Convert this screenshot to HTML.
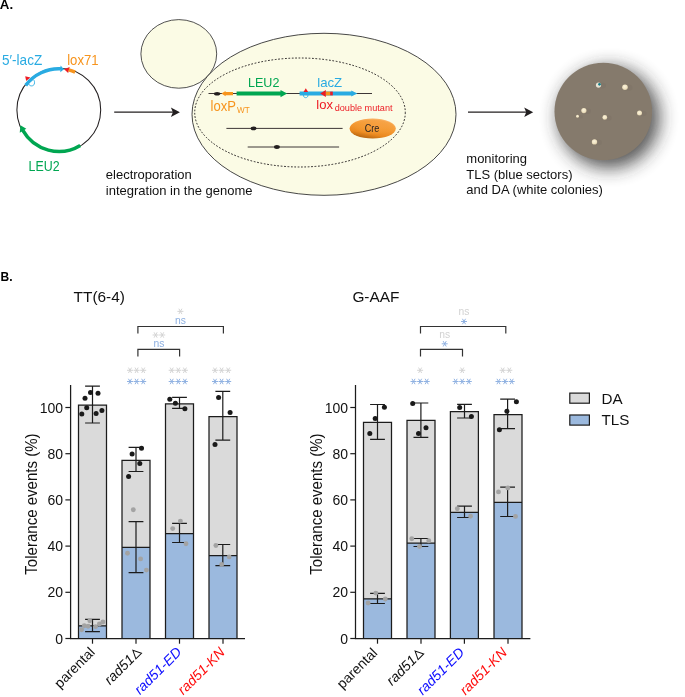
<!DOCTYPE html>
<html><head><meta charset="utf-8"><style>
html,body{margin:0;padding:0;background:#fff;}
svg{display:block;font-family:"Liberation Sans", sans-serif;will-change:transform;}
</style></head><body>
<svg width="685" height="697" viewBox="0 0 685 697">
<text x="-0.2" y="9.1" font-size="13.3" font-weight="bold">A.</text>
<circle cx="58.8" cy="110.1" r="41.9" fill="none" stroke="#231f20" stroke-width="1.05"/>
<path d="M25.69,85.42 A41.3,41.3 0 0 1 60.82,68.85" fill="none" stroke="#29abe2" stroke-width="3.5"/>
<path d="M63.98,69.13 L60.59,65.44 L60.32,72.23Z" fill="#29abe2"/>
<path d="M64.12,69.14 L69.69,67.06 L68.17,73.07Z" fill="#ed1c24"/>
<path d="M68.68,69.90 A41.4,41.4 0 0 1 75.11,72.05" fill="none" stroke="#f7941d" stroke-width="3.5"/>
<path d="M25.2,76.2 L30.4,77.4 L26.2,80.9Z" fill="#ed1c24"/>
<path d="M28.8,84.2 C29.8,86.6 33.6,86.4 34.3,84 C34.8,82.3 34.5,80.8 33.6,79.9" fill="none" stroke="#29abe2" stroke-width="0.9"/>
<path d="M80.26,145.39 A41.3,41.3 0 0 1 22.85,130.44" fill="none" stroke="#00a651" stroke-width="3.5"/>
<path d="M20.43,125.37 L19.74,132.65 L26.32,128.85Z" fill="#00a651"/>
<text x="2" y="64.6" font-size="13.9" fill="#29abe2" textLength="40.2" lengthAdjust="spacingAndGlyphs">5′-lacZ</text>
<text x="67.2" y="64.6" font-size="13.9" fill="#f7941d" textLength="31.4" lengthAdjust="spacingAndGlyphs">lox71</text>
<text x="28.6" y="170.7" font-size="14.2" fill="#00a651" textLength="31" lengthAdjust="spacingAndGlyphs">LEU2</text>
<line x1="114.2" y1="112.2" x2="173.9" y2="112.2" stroke="#231f20" stroke-width="1.3"/><path d="M179.9,112.2 L170.9,107.4 L172.9,112.2 L170.9,117.0Z" fill="#231f20"/>
<line x1="468" y1="112.2" x2="527.2" y2="112.2" stroke="#231f20" stroke-width="1.3"/><path d="M533.2,112.2 L524.2,107.4 L526.2,112.2 L524.2,117.0Z" fill="#231f20"/>
<ellipse cx="178.8" cy="53.9" rx="37.9" ry="34.3" fill="#fbfbe5" stroke="#333" stroke-width="0.85"/>
<ellipse cx="324" cy="114.3" rx="132" ry="81" fill="#fbfbe5" stroke="#333" stroke-width="0.9"/>
<ellipse cx="300" cy="112.5" rx="105.3" ry="54.5" fill="none" stroke="#231f20" stroke-width="1" stroke-dasharray="1.7 1.7"/>
<line x1="208.5" y1="93.5" x2="372" y2="93.5" stroke="#3d3636" stroke-width="1"/>
<ellipse cx="217.1" cy="93.7" rx="3.2" ry="1.8" fill="#231f20"/>
<path d="M221.4,93.6 L225.6,90.9 L225.6,92 L233,92 L233,95.3 L225.6,95.3 L225.6,96.3 Z" fill="#f7941d"/>
<path d="M236.6,91.6 L280.5,91.6 L280.5,89.9 L287.2,93.6 L280.5,97.3 L280.5,95.6 L236.6,95.6Z" fill="#00a651"/>
<path d="M299.6,91.6 L351.3,91.6 L351.3,90.6 L357.4,93.5 L351.3,96.4 L351.3,95.4 L299.6,95.4Z" fill="#29abe2"/>
<path d="M305.8,88.2 L308.1,91.9 L303.5,91.9Z" fill="#ed1c24"/>
<path d="M303.4,95 C303.2,98.6 308.2,98.6 308,95" fill="none" stroke="#29abe2" stroke-width="0.85"/>
<path d="M320.2,93.5 L325.9,90 L325.9,97.1Z" fill="#ed1c24"/>
<rect x="325.8" y="91.6" width="4.4" height="3.8" fill="#f7941d"/>
<rect x="330.2" y="91.6" width="2.6" height="3.8" fill="#ed1c24"/>
<text x="248" y="86.7" font-size="13.4" fill="#00a651" textLength="31.4" lengthAdjust="spacingAndGlyphs">LEU2</text>
<text x="317.2" y="86.6" font-size="13.6" fill="#29abe2" textLength="25" lengthAdjust="spacingAndGlyphs">lacZ</text>
<text x="210.6" y="110.8" font-size="14.2" fill="#f7941d" textLength="25.4" lengthAdjust="spacingAndGlyphs">loxP</text>
<text x="237.1" y="112.5" font-size="9.2" fill="#f7941d" textLength="12.7" lengthAdjust="spacingAndGlyphs">WT</text>
<text x="316.3" y="108.9" font-size="13.7" fill="#ed1c24" textLength="16.7" lengthAdjust="spacingAndGlyphs">lox</text>
<text x="334.7" y="110.6" font-size="8.6" fill="#ed1c24" textLength="57.8" lengthAdjust="spacingAndGlyphs">double mutant</text>
<line x1="226.4" y1="128.4" x2="342.6" y2="128.4" stroke="#3d3636" stroke-width="1"/>
<ellipse cx="253.6" cy="128.4" rx="2.9" ry="1.9" fill="#231f20"/>
<line x1="247.7" y1="147" x2="339.1" y2="147" stroke="#3d3636" stroke-width="1"/>
<ellipse cx="276.9" cy="147" rx="2.9" ry="1.9" fill="#231f20"/>
<defs><linearGradient id="cre" x1="0.75" y1="0" x2="0.3" y2="1"><stop offset="0" stop-color="#fbb469"/><stop offset="0.45" stop-color="#f59a33"/><stop offset="0.75" stop-color="#ea891f"/><stop offset="1" stop-color="#b0600e"/></linearGradient><radialGradient id="cre2" cx="0.55" cy="0.4" r="0.55"><stop offset="0" stop-color="#f7a040" stop-opacity="0.9"/><stop offset="0.8" stop-color="#f39a33" stop-opacity="0.4"/><stop offset="1" stop-color="#f39a33" stop-opacity="0"/></radialGradient><radialGradient id="col" cx="0.45" cy="0.4" r="0.6"><stop offset="0" stop-color="#fbf3dc"/><stop offset="0.7" stop-color="#efe2c0"/><stop offset="1" stop-color="#d8c9a8"/></radialGradient><filter id="sh" x="-60%" y="-60%" width="220%" height="220%"><feGaussianBlur stdDeviation="9"/></filter></defs>
<ellipse cx="372.7" cy="128.6" rx="23.1" ry="10" fill="url(#cre)"/><ellipse cx="373.5" cy="127.6" rx="20.5" ry="7.8" fill="url(#cre2)"/>
<text x="372.1" y="131.8" font-size="10.6" fill="#231f20" text-anchor="middle" textLength="14.6" lengthAdjust="spacingAndGlyphs">Cre</text>
<text x="105.8" y="179" font-size="13" fill="#111">electroporation</text>
<text x="105.8" y="194.5" font-size="13" fill="#111">integration in the genome</text>
<text x="466.3" y="162.8" font-size="13" fill="#111">monitoring</text>
<text x="466.3" y="178.6" font-size="13" fill="#111">TLS (blue sectors)</text>
<text x="466.3" y="194.4" font-size="13" fill="#111">and DA (white colonies)</text>
<circle cx="609" cy="117.5" r="50.5" fill="#2a2a2a" opacity="0.8" filter="url(#sh)"/>
<circle cx="603.3" cy="111.5" r="48.8" fill="#857a6c"/>
<ellipse cx="628" cy="87.7" rx="4.4799999999999995" ry="3.08" fill="#776c60" opacity="0.25"/>
<circle cx="625" cy="87.2" r="2.8" fill="url(#col)"/>
<ellipse cx="586.9" cy="111.1" rx="4.16" ry="2.8600000000000003" fill="#776c60" opacity="0.25"/>
<circle cx="583.9" cy="110.6" r="2.6" fill="url(#col)"/>
<ellipse cx="580.5" cy="116.8" rx="2.4000000000000004" ry="1.6500000000000001" fill="#776c60" opacity="0.25"/>
<circle cx="577.5" cy="116.3" r="1.5" fill="url(#col)"/>
<ellipse cx="607.8" cy="117.9" rx="3.84" ry="2.64" fill="#776c60" opacity="0.25"/>
<circle cx="604.8" cy="117.4" r="2.4" fill="url(#col)"/>
<ellipse cx="642.5" cy="113.6" rx="4.0" ry="2.75" fill="#776c60" opacity="0.25"/>
<circle cx="639.5" cy="113.1" r="2.5" fill="url(#col)"/>
<ellipse cx="597.5" cy="142.4" rx="4.32" ry="2.9700000000000006" fill="#776c60" opacity="0.25"/>
<circle cx="594.5" cy="141.9" r="2.7" fill="url(#col)"/>
<ellipse cx="602" cy="85.6" rx="4" ry="2.8" fill="#776c60" opacity="0.25"/>
<circle cx="598.5" cy="85.1" r="2.6" fill="#e8e4d4"/><circle cx="599.5" cy="84.3" r="1.35" fill="#127b87"/>
<text x="0.6" y="281.2" font-size="12" font-weight="bold">B.</text>
<text x="73.6" y="301.7" font-size="15.4" fill="#111">TT(6-4)</text>
<text transform="translate(37.39999999999999,504.05) rotate(-90)" font-size="15.7" text-anchor="middle" fill="#111" textLength="141.3" lengthAdjust="spacingAndGlyphs">Tolerance events (%)</text>
<rect x="78.5" y="405.19" width="28" height="220.60" fill="#dadada"/>
<rect x="78.5" y="625.79" width="28" height="12.71" fill="#9bb9de"/>
<path d="M78.5,638.5 V405.19 H106.5 V638.5 M78.5,625.79 H106.5" fill="none" stroke="#1c1c1c" stroke-width="1.25"/>
<rect x="122" y="460.40" width="28" height="86.86" fill="#dadada"/>
<rect x="122" y="547.25" width="28" height="91.25" fill="#9bb9de"/>
<path d="M122,638.5 V460.40 H150 V638.5 M122,547.25 H150" fill="none" stroke="#1c1c1c" stroke-width="1.25"/>
<rect x="165.5" y="403.80" width="28" height="129.82" fill="#dadada"/>
<rect x="165.5" y="533.63" width="28" height="104.87" fill="#9bb9de"/>
<path d="M165.5,638.5 V403.80 H193.5 V638.5 M165.5,533.63 H193.5" fill="none" stroke="#1c1c1c" stroke-width="1.25"/>
<rect x="209" y="416.74" width="28" height="138.83" fill="#dadada"/>
<rect x="209" y="555.57" width="28" height="82.93" fill="#9bb9de"/>
<path d="M209,638.5 V416.74 H237 V638.5 M209,555.57 H237" fill="none" stroke="#1c1c1c" stroke-width="1.25"/>
<path d="M92.5,386.2 V423 M85.1,386.2 H99.9 M85.1,423 H99.9" stroke="#1c1c1c" stroke-width="1.2" fill="none"/>
<circle cx="90.5" cy="392.6" r="2.5" fill="#1a1a1a"/>
<circle cx="98" cy="393.2" r="2.5" fill="#1a1a1a"/>
<circle cx="85" cy="398.3" r="2.5" fill="#1a1a1a"/>
<circle cx="86.7" cy="407.8" r="2.5" fill="#1a1a1a"/>
<circle cx="81.8" cy="414.1" r="2.5" fill="#1a1a1a"/>
<circle cx="96.1" cy="413.6" r="2.5" fill="#1a1a1a"/>
<circle cx="101.9" cy="410.4" r="2.5" fill="#1a1a1a"/>
<path d="M92.5,619.3 V631.6 M85.1,619.3 H99.9 M85.1,631.6 H99.9" stroke="#1c1c1c" stroke-width="1.2" fill="none"/>
<circle cx="81.6" cy="629.8" r="2.45" fill="#a3a3a3"/>
<circle cx="84.3" cy="625.7" r="2.45" fill="#a3a3a3"/>
<circle cx="88.1" cy="626.3" r="2.45" fill="#a3a3a3"/>
<circle cx="89.8" cy="620.8" r="2.45" fill="#a3a3a3"/>
<circle cx="95.6" cy="626.6" r="2.45" fill="#a3a3a3"/>
<circle cx="99.4" cy="624" r="2.45" fill="#a3a3a3"/>
<circle cx="102.9" cy="622" r="2.45" fill="#a3a3a3"/>
<path d="M136,447.3 V471.5 M128.6,447.3 H143.4 M128.6,471.5 H143.4" stroke="#1c1c1c" stroke-width="1.2" fill="none"/>
<circle cx="141.5" cy="448.2" r="2.5" fill="#1a1a1a"/>
<circle cx="132.1" cy="453.9" r="2.5" fill="#1a1a1a"/>
<circle cx="139.8" cy="463.4" r="2.5" fill="#1a1a1a"/>
<circle cx="128.6" cy="476.5" r="2.5" fill="#1a1a1a"/>
<path d="M136,521.6 V572.6 M128.6,521.6 H143.4 M128.6,572.6 H143.4" stroke="#1c1c1c" stroke-width="1.2" fill="none"/>
<circle cx="133.3" cy="509.8" r="2.45" fill="#a3a3a3"/>
<circle cx="127.5" cy="553.2" r="2.45" fill="#a3a3a3"/>
<circle cx="140.6" cy="558.9" r="2.45" fill="#a3a3a3"/>
<circle cx="146.4" cy="570.1" r="2.45" fill="#a3a3a3"/>
<path d="M179.5,397.4 V408.3 M172.1,397.4 H186.9 M172.1,408.3 H186.9" stroke="#1c1c1c" stroke-width="1.2" fill="none"/>
<circle cx="169.8" cy="399.3" r="2.5" fill="#1a1a1a"/>
<circle cx="175.4" cy="403.2" r="2.5" fill="#1a1a1a"/>
<circle cx="184.9" cy="408.8" r="2.5" fill="#1a1a1a"/>
<path d="M179.5,523.3 V542.5 M172.1,523.3 H186.9 M172.1,542.5 H186.9" stroke="#1c1c1c" stroke-width="1.2" fill="none"/>
<circle cx="180.4" cy="521.1" r="2.45" fill="#a3a3a3"/>
<circle cx="172.7" cy="528.6" r="2.45" fill="#a3a3a3"/>
<circle cx="186" cy="543.7" r="2.45" fill="#a3a3a3"/>
<path d="M222.8,391.4 V440.2 M215.4,391.4 H230.20000000000002 M215.4,440.2 H230.20000000000002" stroke="#1c1c1c" stroke-width="1.2" fill="none"/>
<circle cx="218.6" cy="397.5" r="2.5" fill="#1a1a1a"/>
<circle cx="230.1" cy="412.4" r="2.5" fill="#1a1a1a"/>
<circle cx="215" cy="444.5" r="2.5" fill="#1a1a1a"/>
<path d="M222.8,544.5 V565.6 M215.4,544.5 H230.20000000000002 M215.4,565.6 H230.20000000000002" stroke="#1c1c1c" stroke-width="1.2" fill="none"/>
<circle cx="215.9" cy="545.5" r="2.45" fill="#a3a3a3"/>
<circle cx="229.2" cy="556.9" r="2.45" fill="#a3a3a3"/>
<circle cx="221.7" cy="564.4" r="2.45" fill="#a3a3a3"/>
<path d="M70.6,385 V638.5 H245" fill="none" stroke="#1c1c1c" stroke-width="1.25"/>
<line x1="65.39999999999999" y1="638.50" x2="70.6" y2="638.50" stroke="#1c1c1c" stroke-width="1.2"/>
<text x="63.099999999999994" y="643.50" font-size="14" text-anchor="end" fill="#111">0</text>
<line x1="65.39999999999999" y1="592.30" x2="70.6" y2="592.30" stroke="#1c1c1c" stroke-width="1.2"/>
<text x="63.099999999999994" y="597.30" font-size="14" text-anchor="end" fill="#111">20</text>
<line x1="65.39999999999999" y1="546.10" x2="70.6" y2="546.10" stroke="#1c1c1c" stroke-width="1.2"/>
<text x="63.099999999999994" y="551.10" font-size="14" text-anchor="end" fill="#111">40</text>
<line x1="65.39999999999999" y1="499.90" x2="70.6" y2="499.90" stroke="#1c1c1c" stroke-width="1.2"/>
<text x="63.099999999999994" y="504.90" font-size="14" text-anchor="end" fill="#111">60</text>
<line x1="65.39999999999999" y1="453.70" x2="70.6" y2="453.70" stroke="#1c1c1c" stroke-width="1.2"/>
<text x="63.099999999999994" y="458.70" font-size="14" text-anchor="end" fill="#111">80</text>
<line x1="65.39999999999999" y1="407.50" x2="70.6" y2="407.50" stroke="#1c1c1c" stroke-width="1.2"/>
<text x="63.099999999999994" y="412.50" font-size="14" text-anchor="end" fill="#111">100</text>
<line x1="92.5" y1="638.5" x2="92.5" y2="643.7" stroke="#1c1c1c" stroke-width="1.2"/>
<line x1="136" y1="638.5" x2="136" y2="643.7" stroke="#1c1c1c" stroke-width="1.2"/>
<line x1="179.5" y1="638.5" x2="179.5" y2="643.7" stroke="#1c1c1c" stroke-width="1.2"/>
<line x1="223" y1="638.5" x2="223" y2="643.7" stroke="#1c1c1c" stroke-width="1.2"/>
<text transform="translate(95.8,653.1) rotate(-45)" font-size="14" text-anchor="end" fill="#111" font-style="normal">parental</text>
<g transform="translate(142.3,653.2) rotate(-45)"><text x="-10" font-size="14" text-anchor="end" fill="#111" font-style="italic">rad51</text><path d="M-8.6,-0.5 L-0.6,-0.5 L-4.6,-8.7Z" fill="none" stroke="#111" stroke-width="1" stroke-linejoin="miter"/></g>
<text transform="translate(182.4,652.9) rotate(-45)" font-size="14" text-anchor="end" fill="#0c0cff" font-style="italic">rad51-ED</text>
<text transform="translate(225.7,653.2) rotate(-45)" font-size="14" text-anchor="end" fill="#ff0c0c" font-style="italic">rad51-KN</text>
<path d="M137.9,333.5 V326.5 H223.4 V333.5" fill="none" stroke="#333" stroke-width="1.2"/>
<path d="M137.9,356.59999999999997 V349.4 H179.6 V356.59999999999997" fill="none" stroke="#333" stroke-width="1.2"/>
<path d="M127.0,370.3H133.0M128.45,367.6L131.55,373.0M131.55,367.6L128.45,373.0" stroke="#d2d2d2" stroke-width="0.95" fill="none"/><path d="M133.6,370.3H139.6M135.04999999999998,367.6L138.15,373.0M138.15,367.6L135.04999999999998,373.0" stroke="#d2d2d2" stroke-width="0.95" fill="none"/><path d="M140.2,370.3H146.2M141.64999999999998,367.6L144.75,373.0M144.75,367.6L141.64999999999998,373.0" stroke="#d2d2d2" stroke-width="0.95" fill="none"/>
<path d="M168.70000000000002,370.3H174.70000000000002M170.15,367.6L173.25000000000003,373.0M173.25000000000003,367.6L170.15,373.0" stroke="#d2d2d2" stroke-width="0.95" fill="none"/><path d="M175.3,370.3H181.3M176.75,367.6L179.85000000000002,373.0M179.85000000000002,367.6L176.75,373.0" stroke="#d2d2d2" stroke-width="0.95" fill="none"/><path d="M181.9,370.3H187.9M183.35,367.6L186.45000000000002,373.0M186.45000000000002,367.6L183.35,373.0" stroke="#d2d2d2" stroke-width="0.95" fill="none"/>
<path d="M212.0,370.3H218.0M213.45,367.6L216.55,373.0M216.55,367.6L213.45,373.0" stroke="#d2d2d2" stroke-width="0.95" fill="none"/><path d="M218.6,370.3H224.6M220.04999999999998,367.6L223.15,373.0M223.15,367.6L220.04999999999998,373.0" stroke="#d2d2d2" stroke-width="0.95" fill="none"/><path d="M225.2,370.3H231.2M226.64999999999998,367.6L229.75,373.0M229.75,367.6L226.64999999999998,373.0" stroke="#d2d2d2" stroke-width="0.95" fill="none"/>
<path d="M127.0,381.5H133.0M128.45,378.8L131.55,384.2M131.55,378.8L128.45,384.2" stroke="#8cafe0" stroke-width="0.95" fill="none"/><path d="M133.6,381.5H139.6M135.04999999999998,378.8L138.15,384.2M138.15,378.8L135.04999999999998,384.2" stroke="#8cafe0" stroke-width="0.95" fill="none"/><path d="M140.2,381.5H146.2M141.64999999999998,378.8L144.75,384.2M144.75,378.8L141.64999999999998,384.2" stroke="#8cafe0" stroke-width="0.95" fill="none"/>
<path d="M168.70000000000002,381.5H174.70000000000002M170.15,378.8L173.25000000000003,384.2M173.25000000000003,378.8L170.15,384.2" stroke="#8cafe0" stroke-width="0.95" fill="none"/><path d="M175.3,381.5H181.3M176.75,378.8L179.85000000000002,384.2M179.85000000000002,378.8L176.75,384.2" stroke="#8cafe0" stroke-width="0.95" fill="none"/><path d="M181.9,381.5H187.9M183.35,378.8L186.45000000000002,384.2M186.45000000000002,378.8L183.35,384.2" stroke="#8cafe0" stroke-width="0.95" fill="none"/>
<path d="M212.0,381.5H218.0M213.45,378.8L216.55,384.2M216.55,378.8L213.45,384.2" stroke="#8cafe0" stroke-width="0.95" fill="none"/><path d="M218.6,381.5H224.6M220.04999999999998,378.8L223.15,384.2M223.15,378.8L220.04999999999998,384.2" stroke="#8cafe0" stroke-width="0.95" fill="none"/><path d="M225.2,381.5H231.2M226.64999999999998,378.8L229.75,384.2M229.75,378.8L226.64999999999998,384.2" stroke="#8cafe0" stroke-width="0.95" fill="none"/>
<path d="M177.4,311.4H183.4M178.85,308.7L181.95000000000002,314.09999999999997M181.95000000000002,308.7L178.85,314.09999999999997" stroke="#d2d2d2" stroke-width="0.95" fill="none"/>
<path d="M152.6,335H158.6M154.04999999999998,332.3L157.15,337.7M157.15,332.3L154.04999999999998,337.7" stroke="#d2d2d2" stroke-width="0.95" fill="none"/>
<path d="M159.2,335H165.2M160.64999999999998,332.3L163.75,337.7M163.75,332.3L160.64999999999998,337.7" stroke="#d2d2d2" stroke-width="0.95" fill="none"/>
<text x="180.4" y="324.2" font-size="10.3" text-anchor="middle" fill="#8cafe0">ns</text>
<text x="158.9" y="346.9" font-size="10.3" text-anchor="middle" fill="#8cafe0">ns</text>
<text x="352.4" y="301.7" font-size="15.4" fill="#111">G-AAF</text>
<text transform="translate(322.3,504.05) rotate(-90)" font-size="15.7" text-anchor="middle" fill="#111" textLength="141.3" lengthAdjust="spacingAndGlyphs">Tolerance events (%)</text>
<rect x="363.5" y="422.28" width="28" height="176.48" fill="#dadada"/>
<rect x="363.5" y="598.77" width="28" height="39.73" fill="#9bb9de"/>
<path d="M363.5,638.5 V422.28 H391.5 V638.5 M363.5,598.77 H391.5" fill="none" stroke="#1c1c1c" stroke-width="1.25"/>
<rect x="407" y="420.44" width="28" height="122.66" fill="#dadada"/>
<rect x="407" y="543.10" width="28" height="95.40" fill="#9bb9de"/>
<path d="M407,638.5 V420.44 H435 V638.5 M407,543.10 H435" fill="none" stroke="#1c1c1c" stroke-width="1.25"/>
<rect x="450.4" y="411.66" width="28" height="100.72" fill="#dadada"/>
<rect x="450.4" y="512.37" width="28" height="126.13" fill="#9bb9de"/>
<path d="M450.4,638.5 V411.66 H478.4 V638.5 M450.4,512.37 H478.4" fill="none" stroke="#1c1c1c" stroke-width="1.25"/>
<rect x="494" y="414.66" width="28" height="87.78" fill="#dadada"/>
<rect x="494" y="502.44" width="28" height="136.06" fill="#9bb9de"/>
<path d="M494,638.5 V414.66 H522 V638.5 M494,502.44 H522" fill="none" stroke="#1c1c1c" stroke-width="1.25"/>
<path d="M377.5,404.5 V439.3 M370.1,404.5 H384.9 M370.1,439.3 H384.9" stroke="#1c1c1c" stroke-width="1.2" fill="none"/>
<circle cx="384.4" cy="407.2" r="2.5" fill="#1a1a1a"/>
<circle cx="375.2" cy="418.5" r="2.5" fill="#1a1a1a"/>
<circle cx="369.8" cy="433.5" r="2.5" fill="#1a1a1a"/>
<path d="M377.5,593.4 V603.5 M370.1,593.4 H384.9 M370.1,603.5 H384.9" stroke="#1c1c1c" stroke-width="1.2" fill="none"/>
<circle cx="375.8" cy="593.1" r="2.45" fill="#a3a3a3"/>
<circle cx="385.3" cy="599" r="2.45" fill="#a3a3a3"/>
<circle cx="368.1" cy="603" r="2.45" fill="#a3a3a3"/>
<path d="M420.9,403 V437.4 M413.5,403 H428.29999999999995 M413.5,437.4 H428.29999999999995" stroke="#1c1c1c" stroke-width="1.2" fill="none"/>
<circle cx="412.7" cy="403.4" r="2.5" fill="#1a1a1a"/>
<circle cx="426" cy="427.8" r="2.5" fill="#1a1a1a"/>
<circle cx="418.5" cy="433.4" r="2.5" fill="#1a1a1a"/>
<path d="M420.9,538.5 V546.5 M413.5,538.5 H428.29999999999995 M413.5,546.5 H428.29999999999995" stroke="#1c1c1c" stroke-width="1.2" fill="none"/>
<circle cx="411.8" cy="538.7" r="2.45" fill="#a3a3a3"/>
<circle cx="428.8" cy="540.7" r="2.45" fill="#a3a3a3"/>
<circle cx="419.5" cy="546.5" r="2.45" fill="#a3a3a3"/>
<path d="M464.5,404.3 V418 M457.1,404.3 H471.9 M457.1,418 H471.9" stroke="#1c1c1c" stroke-width="1.2" fill="none"/>
<circle cx="459.7" cy="407.4" r="2.5" fill="#1a1a1a"/>
<circle cx="471.4" cy="416.5" r="2.5" fill="#1a1a1a"/>
<path d="M464.5,506.2 V517.5 M457.1,506.2 H471.9 M457.1,517.5 H471.9" stroke="#1c1c1c" stroke-width="1.2" fill="none"/>
<circle cx="457.3" cy="508.7" r="2.45" fill="#a3a3a3"/>
<circle cx="470.5" cy="516.3" r="2.45" fill="#a3a3a3"/>
<path d="M507.6,399.1 V428.7 M500.20000000000005,399.1 H515.0 M500.20000000000005,428.7 H515.0" stroke="#1c1c1c" stroke-width="1.2" fill="none"/>
<circle cx="516.4" cy="401.7" r="2.5" fill="#1a1a1a"/>
<circle cx="506.9" cy="411.2" r="2.5" fill="#1a1a1a"/>
<circle cx="499.4" cy="429.8" r="2.5" fill="#1a1a1a"/>
<path d="M507.6,487.2 V516.5 M500.20000000000005,487.2 H515.0 M500.20000000000005,516.5 H515.0" stroke="#1c1c1c" stroke-width="1.2" fill="none"/>
<circle cx="498.5" cy="491.9" r="2.45" fill="#a3a3a3"/>
<circle cx="507.8" cy="487.9" r="2.45" fill="#a3a3a3"/>
<circle cx="515.5" cy="516.4" r="2.45" fill="#a3a3a3"/>
<path d="M355.5,385 V638.5 H530.4" fill="none" stroke="#1c1c1c" stroke-width="1.25"/>
<line x1="350.3" y1="638.50" x2="355.5" y2="638.50" stroke="#1c1c1c" stroke-width="1.2"/>
<text x="348.0" y="643.50" font-size="14" text-anchor="end" fill="#111">0</text>
<line x1="350.3" y1="592.30" x2="355.5" y2="592.30" stroke="#1c1c1c" stroke-width="1.2"/>
<text x="348.0" y="597.30" font-size="14" text-anchor="end" fill="#111">20</text>
<line x1="350.3" y1="546.10" x2="355.5" y2="546.10" stroke="#1c1c1c" stroke-width="1.2"/>
<text x="348.0" y="551.10" font-size="14" text-anchor="end" fill="#111">40</text>
<line x1="350.3" y1="499.90" x2="355.5" y2="499.90" stroke="#1c1c1c" stroke-width="1.2"/>
<text x="348.0" y="504.90" font-size="14" text-anchor="end" fill="#111">60</text>
<line x1="350.3" y1="453.70" x2="355.5" y2="453.70" stroke="#1c1c1c" stroke-width="1.2"/>
<text x="348.0" y="458.70" font-size="14" text-anchor="end" fill="#111">80</text>
<line x1="350.3" y1="407.50" x2="355.5" y2="407.50" stroke="#1c1c1c" stroke-width="1.2"/>
<text x="348.0" y="412.50" font-size="14" text-anchor="end" fill="#111">100</text>
<line x1="377.5" y1="638.5" x2="377.5" y2="643.7" stroke="#1c1c1c" stroke-width="1.2"/>
<line x1="421" y1="638.5" x2="421" y2="643.7" stroke="#1c1c1c" stroke-width="1.2"/>
<line x1="464.4" y1="638.5" x2="464.4" y2="643.7" stroke="#1c1c1c" stroke-width="1.2"/>
<line x1="508" y1="638.5" x2="508" y2="643.7" stroke="#1c1c1c" stroke-width="1.2"/>
<text transform="translate(378.2,653.8) rotate(-45)" font-size="14" text-anchor="end" fill="#111" font-style="normal">parental</text>
<g transform="translate(424.5,653.9) rotate(-45)"><text x="-10" font-size="14" text-anchor="end" fill="#111" font-style="italic">rad51</text><path d="M-8.6,-0.5 L-0.6,-0.5 L-4.6,-8.7Z" fill="none" stroke="#111" stroke-width="1" stroke-linejoin="miter"/></g>
<text transform="translate(465.09999999999997,653.4) rotate(-45)" font-size="14" text-anchor="end" fill="#0c0cff" font-style="italic">rad51-ED</text>
<text transform="translate(507.8,653.4) rotate(-45)" font-size="14" text-anchor="end" fill="#ff0c0c" font-style="italic">rad51-KN</text>
<path d="M420.5,333.5 V326.5 H505.8 V333.5" fill="none" stroke="#333" stroke-width="1.2"/>
<path d="M420.5,356.59999999999997 V349.4 H462.5 V356.59999999999997" fill="none" stroke="#333" stroke-width="1.2"/>
<path d="M417.1,370.3H423.1M418.55,367.6L421.65000000000003,373.0M421.65000000000003,367.6L418.55,373.0" stroke="#d2d2d2" stroke-width="0.95" fill="none"/>
<path d="M459.2,370.3H465.2M460.65,367.6L463.75,373.0M463.75,367.6L460.65,373.0" stroke="#d2d2d2" stroke-width="0.95" fill="none"/>
<path d="M499.7,370.3H505.7M501.15,367.6L504.25,373.0M504.25,367.6L501.15,373.0" stroke="#d2d2d2" stroke-width="0.95" fill="none"/><path d="M506.3,370.3H512.3M507.75,367.6L510.85,373.0M510.85,367.6L507.75,373.0" stroke="#d2d2d2" stroke-width="0.95" fill="none"/>
<path d="M410.5,381.5H416.5M411.95,378.8L415.05,384.2M415.05,378.8L411.95,384.2" stroke="#8cafe0" stroke-width="0.95" fill="none"/><path d="M417.1,381.5H423.1M418.55,378.8L421.65000000000003,384.2M421.65000000000003,378.8L418.55,384.2" stroke="#8cafe0" stroke-width="0.95" fill="none"/><path d="M423.70000000000005,381.5H429.70000000000005M425.15000000000003,378.8L428.25000000000006,384.2M428.25000000000006,378.8L425.15000000000003,384.2" stroke="#8cafe0" stroke-width="0.95" fill="none"/>
<path d="M452.59999999999997,381.5H458.59999999999997M454.04999999999995,378.8L457.15,384.2M457.15,378.8L454.04999999999995,384.2" stroke="#8cafe0" stroke-width="0.95" fill="none"/><path d="M459.2,381.5H465.2M460.65,378.8L463.75,384.2M463.75,378.8L460.65,384.2" stroke="#8cafe0" stroke-width="0.95" fill="none"/><path d="M465.8,381.5H471.8M467.25,378.8L470.35,384.2M470.35,378.8L467.25,384.2" stroke="#8cafe0" stroke-width="0.95" fill="none"/>
<path d="M495.5,381.5H501.5M496.95,378.8L500.05,384.2M500.05,378.8L496.95,384.2" stroke="#8cafe0" stroke-width="0.95" fill="none"/><path d="M502.1,381.5H508.1M503.55,378.8L506.65000000000003,384.2M506.65000000000003,378.8L503.55,384.2" stroke="#8cafe0" stroke-width="0.95" fill="none"/><path d="M508.70000000000005,381.5H514.7M510.15000000000003,378.8L513.25,384.2M513.25,378.8L510.15000000000003,384.2" stroke="#8cafe0" stroke-width="0.95" fill="none"/>
<path d="M461.0,321.5H467.0M462.45,318.8L465.55,324.2M465.55,318.8L462.45,324.2" stroke="#8cafe0" stroke-width="0.95" fill="none"/>
<path d="M441.7,343.8H447.7M443.15,341.1L446.25,346.5M446.25,341.1L443.15,346.5" stroke="#8cafe0" stroke-width="0.95" fill="none"/>
<text x="464" y="315.2" font-size="10.3" text-anchor="middle" fill="#d2d2d2">ns</text>
<text x="444.7" y="337.5" font-size="10.3" text-anchor="middle" fill="#d2d2d2">ns</text>
<rect x="569.8" y="393.1" width="19.6" height="10.1" fill="#dadada" stroke="#1c1c1c" stroke-width="1.2"/>
<rect x="569.8" y="415" width="19.6" height="10.1" fill="#9bb9de" stroke="#1c1c1c" stroke-width="1.2"/>
<text x="601.5" y="403.5" font-size="15.2" fill="#111">DA</text>
<text x="601.5" y="425.4" font-size="15.2" fill="#111">TLS</text>
</svg>
</body></html>
